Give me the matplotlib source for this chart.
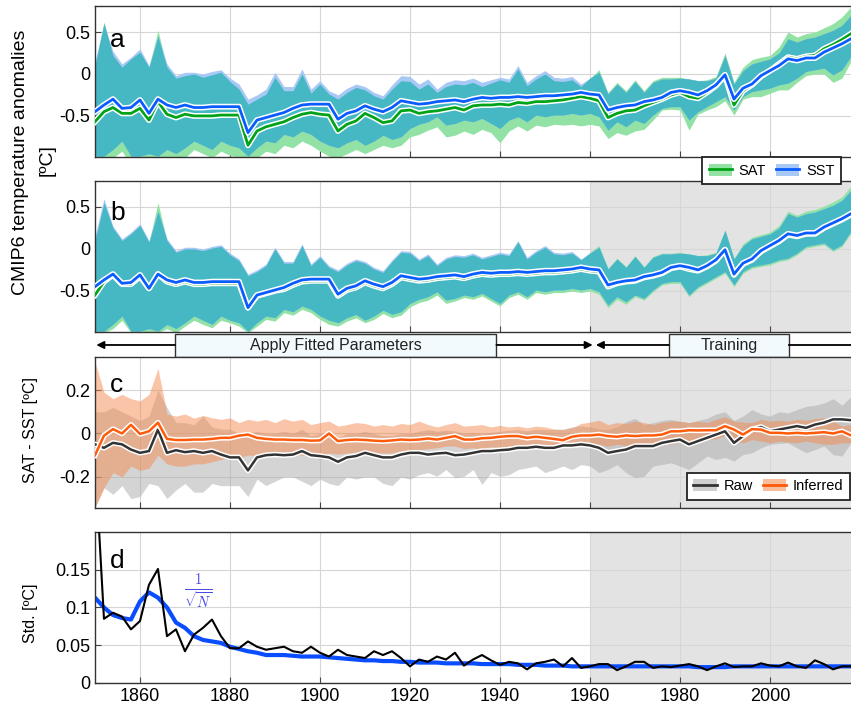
import numpy as np
import matplotlib
matplotlib.use("Agg")
import matplotlib.pyplot as plt
import matplotlib.patheffects as pe
from matplotlib.patches import Patch, Rectangle
from matplotlib.lines import Line2D

plt.rcParams['font.family'] = ['Liberation Sans', 'DejaVu Sans']
plt.rcParams['axes.unicode_minus'] = False

years = np.arange(1850, 2019, 2)

# ---- panel a : raw CMIP6 anomalies (multi-model mean and spread)
sst_mean = [-0.45, -0.37, -0.30, -0.41, -0.40, -0.31, -0.47, -0.30, -0.37, -0.40,
            -0.37, -0.40, -0.40, -0.39, -0.39, -0.39, -0.39, -0.70, -0.55, -0.52,
            -0.49, -0.46, -0.41, -0.37, -0.36, -0.36, -0.36, -0.54, -0.47, -0.44,
            -0.38, -0.42, -0.45, -0.40, -0.32, -0.34, -0.36, -0.35, -0.33, -0.32,
            -0.31, -0.33, -0.30, -0.28, -0.29, -0.28, -0.28, -0.27, -0.28, -0.27,
            -0.26, -0.26, -0.25, -0.24, -0.22, -0.24, -0.25, -0.43, -0.40, -0.38,
            -0.37, -0.33, -0.31, -0.28, -0.22, -0.20, -0.22, -0.25, -0.20, -0.13,
            -0.01, -0.30, -0.17, -0.12, -0.02, 0.04, 0.10, 0.18, 0.16, 0.19,
            0.19, 0.26, 0.31, 0.36, 0.42]
sat_mean = [-0.57, -0.45, -0.40, -0.47, -0.47, -0.41, -0.55, -0.33, -0.48, -0.52,
            -0.48, -0.50, -0.50, -0.50, -0.49, -0.49, -0.49, -0.85, -0.68, -0.63,
            -0.60, -0.57, -0.52, -0.48, -0.46, -0.48, -0.49, -0.68, -0.60, -0.56,
            -0.47, -0.52, -0.58, -0.56, -0.44, -0.43, -0.47, -0.45, -0.44, -0.42,
            -0.40, -0.43, -0.38, -0.37, -0.37, -0.36, -0.37, -0.34, -0.35, -0.33,
            -0.33, -0.32, -0.31, -0.29, -0.27, -0.29, -0.32, -0.52, -0.47, -0.44,
            -0.43, -0.38, -0.34, -0.30, -0.25, -0.22, -0.27, -0.29, -0.22, -0.14,
            -0.02, -0.37, -0.20, -0.13, -0.03, 0.04, 0.12, 0.20, 0.18, 0.21,
            0.22, 0.30, 0.35, 0.41, 0.48]
sst_hi = [0.15, 0.60, 0.27, 0.12, 0.20, 0.30, 0.10, 0.45, 0.12, -0.02,
          0.02, 0.02, 0.00, 0.03, 0.05, -0.05, -0.12, -0.30, -0.25, -0.18,
          0.02, -0.15, -0.15, 0.06, -0.18, -0.08, -0.20, -0.25, -0.17, -0.12,
          -0.15, -0.22, -0.26, -0.13, -0.02, -0.03, -0.12, -0.06, -0.18, -0.10,
          -0.07, -0.08, -0.05, -0.10, -0.07, -0.04, -0.06, 0.10, -0.10, -0.02,
          0.04, -0.04, -0.05, -0.03, -0.12, -0.05, 0.02, -0.24, -0.12, -0.22,
          -0.09, -0.22, -0.10, -0.06, -0.06, -0.05, -0.06, -0.08, -0.08, -0.05,
          0.22, -0.12, 0.04, 0.12, 0.15, 0.18, 0.25, 0.42, 0.38, 0.42,
          0.44, 0.48, 0.52, 0.58, 0.70]
sat_hi = [0.10, 0.62, 0.22, 0.08, 0.18, 0.26, 0.08, 0.52, 0.08, -0.05,
          -0.02, 0.00, -0.04, -0.01, 0.02, -0.09, -0.18, -0.36, -0.30, -0.24,
          -0.04, -0.20, -0.20, 0.00, -0.23, -0.12, -0.24, -0.30, -0.22, -0.16,
          -0.19, -0.26, -0.30, -0.18, -0.08, -0.09, -0.18, -0.12, -0.22, -0.15,
          -0.12, -0.13, -0.10, -0.15, -0.11, -0.07, -0.10, 0.06, -0.14, -0.06,
          0.00, -0.08, -0.09, -0.07, -0.15, -0.05, 0.05, -0.22, -0.10, -0.20,
          -0.07, -0.20, -0.08, -0.04, -0.04, -0.04, -0.06, -0.08, -0.07, -0.03,
          0.25, -0.10, 0.08, 0.17, 0.20, 0.22, 0.32, 0.50, 0.44, 0.48,
          0.50, 0.55, 0.60, 0.68, 0.80]
sst_lo = [-0.98, -0.98, -0.90, -0.80, -0.98, -0.98, -0.95, -0.98, -0.90, -0.95,
          -0.88, -0.80, -0.85, -0.90, -0.80, -0.85, -0.88, -0.98, -0.88, -0.80,
          -0.82, -0.72, -0.75, -0.68, -0.72, -0.80, -0.85, -0.88, -0.82, -0.78,
          -0.85, -0.80, -0.73, -0.78, -0.75, -0.65, -0.60, -0.57, -0.51, -0.61,
          -0.59, -0.55, -0.57, -0.53, -0.59, -0.65, -0.55, -0.51, -0.57, -0.49,
          -0.51, -0.49, -0.49, -0.47, -0.49, -0.47, -0.51, -0.67, -0.57, -0.63,
          -0.55, -0.59, -0.49, -0.41, -0.39, -0.39, -0.55, -0.45, -0.39, -0.33,
          -0.27, -0.43, -0.27, -0.21, -0.19, -0.17, -0.13, -0.11, -0.05, 0.03,
          0.05, 0.07, -0.01, 0.05, 0.21]
sat_lo = [-1.10, -1.10, -1.00, -0.92, -1.10, -1.10, -1.05, -1.10, -1.00, -1.05,
          -1.00, -0.90, -0.95, -1.00, -0.92, -0.97, -1.00, -1.10, -1.00, -0.92,
          -0.95, -0.85, -0.88, -0.80, -0.85, -0.92, -0.98, -1.00, -0.95, -0.90,
          -0.95, -0.90, -0.85, -0.88, -0.85, -0.75, -0.72, -0.67, -0.63, -0.75,
          -0.73, -0.68, -0.72, -0.66, -0.70, -0.82, -0.68, -0.62, -0.68, -0.61,
          -0.63, -0.60, -0.61, -0.60, -0.62, -0.60, -0.62, -0.77, -0.70, -0.73,
          -0.68, -0.66, -0.55, -0.43, -0.42, -0.43, -0.67, -0.48, -0.43, -0.39,
          -0.32, -0.49, -0.30, -0.27, -0.27, -0.23, -0.19, -0.19, -0.10, -0.02,
          0.00, 0.00, -0.10, -0.05, 0.15]

# ---- panel b : SAT after applying fitted parameters (SST unchanged)
sat_fit = [-0.55, -0.39, -0.31, -0.42, -0.42, -0.33, -0.47, -0.30, -0.39, -0.42,
           -0.39, -0.42, -0.42, -0.41, -0.41, -0.41, -0.41, -0.70, -0.56, -0.53,
           -0.50, -0.48, -0.43, -0.39, -0.38, -0.38, -0.38, -0.56, -0.49, -0.46,
           -0.40, -0.44, -0.47, -0.42, -0.34, -0.36, -0.38, -0.37, -0.35, -0.34,
           -0.33, -0.35, -0.32, -0.30, -0.31, -0.30, -0.30, -0.29, -0.30, -0.29,
           -0.28, -0.28, -0.27, -0.26, -0.24, -0.26, -0.27, -0.45, -0.41, -0.39,
           -0.38, -0.34, -0.32, -0.29, -0.23, -0.21, -0.24, -0.26, -0.21, -0.14,
           -0.01, -0.31, -0.18, -0.13, -0.03, 0.03, 0.09, 0.17, 0.15, 0.18,
           0.18, 0.25, 0.30, 0.35, 0.41]
sat_fit_hi = [0.10, 0.55, 0.25, 0.10, 0.18, 0.28, 0.08, 0.55, 0.10, -0.04,
              0.00, 0.00, -0.02, 0.01, 0.03, -0.07, -0.14, -0.32, -0.27, -0.20,
              0.00, -0.17, -0.17, 0.04, -0.20, -0.10, -0.22, -0.27, -0.19, -0.14,
              -0.17, -0.24, -0.28, -0.15, -0.04, -0.05, -0.14, -0.08, -0.20, -0.12,
              -0.09, -0.10, -0.07, -0.12, -0.09, -0.06, -0.08, 0.08, -0.12, -0.04,
              0.02, -0.06, -0.07, -0.05, -0.13, -0.04, 0.04, -0.23, -0.11, -0.21,
              -0.08, -0.21, -0.09, -0.05, -0.05, -0.04, -0.06, -0.08, -0.07, -0.04,
              0.23, -0.11, 0.06, 0.14, 0.17, 0.20, 0.28, 0.45, 0.40, 0.45,
              0.47, 0.51, 0.56, 0.62, 0.75]
sat_fit_lo = [-1.05, -1.00, -0.95, -0.85, -1.00, -1.00, -1.00, -1.00, -0.95, -1.00,
              -0.92, -0.85, -0.90, -0.94, -0.85, -0.88, -0.92, -1.00, -0.92, -0.84,
              -0.86, -0.76, -0.79, -0.72, -0.76, -0.84, -0.90, -0.92, -0.86, -0.82,
              -0.88, -0.84, -0.77, -0.82, -0.79, -0.69, -0.64, -0.61, -0.55, -0.65,
              -0.62, -0.58, -0.60, -0.56, -0.62, -0.68, -0.58, -0.54, -0.60, -0.52,
              -0.54, -0.52, -0.52, -0.50, -0.52, -0.50, -0.54, -0.70, -0.60, -0.66,
              -0.57, -0.61, -0.51, -0.43, -0.41, -0.41, -0.57, -0.47, -0.41, -0.35,
              -0.29, -0.45, -0.29, -0.23, -0.21, -0.19, -0.15, -0.13, -0.07, 0.01,
              0.03, 0.05, -0.03, 0.03, 0.19]

# ---- panel c : SAT - SST, raw and inferred
raw_mean = [-0.05, -0.066, -0.043, -0.05, -0.074, -0.089, -0.081, 0.018, -0.089, -0.077,
            -0.086, -0.081, -0.089, -0.081, -0.097, -0.11, -0.11, -0.17, -0.11, -0.10,
            -0.097, -0.10, -0.097, -0.081, -0.10, -0.104, -0.11, -0.13, -0.11, -0.104,
            -0.089, -0.10, -0.11, -0.11, -0.097, -0.089, -0.089, -0.097, -0.092, -0.089,
            -0.10, -0.097, -0.089, -0.081, -0.081, -0.077, -0.074, -0.066, -0.066, -0.061,
            -0.066, -0.066, -0.055, -0.055, -0.05, -0.055, -0.066, -0.089, -0.081, -0.074,
            -0.058, -0.058, -0.058, -0.043, -0.035, -0.028, -0.05, -0.035, -0.02, -0.005,
            0.01, -0.043, -0.012, 0.018, 0.03, 0.01, 0.018, 0.026, 0.034, 0.026,
            0.041, 0.05, 0.065, 0.065, 0.061]
raw_hi = [0.10, 0.10, 0.12, 0.10, 0.08, 0.06, 0.08, 0.20, 0.12, 0.05,
          0.05, 0.04, 0.08, 0.03, 0.02, 0.02, 0.00, 0.00, 0.01, 0.00,
          0.00, 0.01, 0.00, 0.02, -0.01, 0.00, 0.00, -0.02, 0.00, 0.00,
          0.01, 0.00, -0.01, -0.01, 0.00, 0.00, 0.01, 0.018, 0.01, 0.015,
          0.012, 0.00, 0.005, 0.00, 0.005, 0.01, 0.015, 0.018, 0.012, 0.02,
          0.018, 0.018, 0.02, 0.03, 0.035, 0.03, 0.02, 0.018, 0.03, 0.055,
          0.07, 0.04, 0.05, 0.06, 0.065, 0.055, 0.05, 0.06, 0.07, 0.09,
          0.10, 0.06, 0.08, 0.11, 0.09, 0.08, 0.10, 0.095, 0.11, 0.125,
          0.13, 0.14, 0.16, 0.13, 0.17]
raw_lo = [-0.34, -0.25, -0.28, -0.24, -0.30, -0.29, -0.23, -0.24, -0.30, -0.26,
          -0.23, -0.27, -0.27, -0.23, -0.24, -0.24, -0.24, -0.29, -0.21, -0.24,
          -0.22, -0.20, -0.20, -0.22, -0.24, -0.21, -0.23, -0.24, -0.20, -0.21,
          -0.20, -0.20, -0.23, -0.24, -0.20, -0.21, -0.19, -0.18, -0.197, -0.166,
          -0.204, -0.197, -0.166, -0.235, -0.18, -0.197, -0.19, -0.166, -0.158, -0.15,
          -0.18, -0.166, -0.15, -0.166, -0.143, -0.15, -0.18, -0.166, -0.143, -0.18,
          -0.204, -0.197, -0.15, -0.143, -0.135, -0.15, -0.166, -0.135, -0.104, -0.12,
          -0.11, -0.127, -0.097, -0.089, -0.066, -0.05, -0.046, -0.043, -0.066, -0.089,
          -0.074, -0.058, -0.097, -0.104, -0.043]
inf_mean = [-0.10, -0.01, 0.02, 0.00, 0.04, -0.002, 0.01, 0.05, -0.025, -0.03,
            -0.03, -0.028, -0.028, -0.025, -0.02, -0.02, -0.01, -0.005, -0.02, -0.025,
            -0.028, -0.028, -0.03, -0.03, -0.033, -0.032, 0.00, -0.035, -0.03, -0.028,
            -0.03, -0.033, -0.035, -0.032, -0.028, -0.03, -0.028, -0.023, -0.028, -0.02,
            -0.012, -0.028, -0.028, -0.022, -0.02, -0.015, -0.012, -0.012, -0.02, -0.015,
            -0.02, -0.025, -0.031, -0.015, -0.009, -0.009, -0.005, -0.012, -0.015, -0.009,
            -0.012, -0.009, -0.009, -0.005, 0.01, 0.01, 0.015, 0.014, 0.015, 0.015,
            0.034, 0.018, -0.005, 0.02, 0.018, 0.003, 0.003, 0.0, 0.003, 0.0,
            0.003, 0.006, 0.0, 0.01, -0.009]
inf_hi = [0.33, 0.19, 0.16, 0.18, 0.16, 0.15, 0.18, 0.30, 0.09, 0.08,
          0.09, 0.07, 0.083, 0.072, 0.065, 0.072, 0.05, 0.065, 0.057, 0.065,
          0.05, 0.068, 0.057, 0.065, 0.041, 0.05, 0.057, 0.034, 0.041, 0.05,
          0.046, 0.034, 0.041, 0.034, 0.046, 0.041, 0.057, 0.041, 0.03, 0.041,
          0.05, 0.034, 0.037, 0.041, 0.03, 0.037, 0.03, 0.034, 0.026, 0.034,
          0.03, 0.021, 0.018, 0.026, 0.046, 0.052, 0.061, 0.041, 0.05, 0.046,
          0.057, 0.05, 0.041, 0.052, 0.057, 0.057, 0.05, 0.057, 0.05, 0.065,
          0.077, 0.057, 0.052, 0.05, 0.065, 0.057, 0.061, 0.057, 0.065, 0.061,
          0.068, 0.072, 0.057, 0.034, 0.041]
inf_lo = [-0.34, -0.25, -0.18, -0.20, -0.15, -0.17, -0.16, -0.10, -0.14, -0.15,
          -0.15, -0.14, -0.14, -0.13, -0.12, -0.11, -0.11, -0.10, -0.10, -0.09,
          -0.10, -0.10, -0.095, -0.10, -0.10, -0.12, -0.09, -0.095, -0.09, -0.085,
          -0.085, -0.09, -0.09, -0.09, -0.08, -0.075, -0.075, -0.07, -0.066, -0.058,
          -0.058, -0.07, -0.066, -0.074, -0.061, -0.066, -0.058, -0.066, -0.061, -0.058,
          -0.061, -0.058, -0.066, -0.055, -0.05, -0.055, -0.05, -0.058, -0.05, -0.055,
          -0.05, -0.05, -0.055, -0.043, -0.05, -0.035, -0.043, -0.035, -0.028, -0.025,
          -0.009, -0.035, -0.043, -0.028, -0.035, -0.043, -0.035, -0.04, -0.043, -0.035,
          -0.043, -0.05, -0.05, -0.043, -0.043]

# ---- panel d : standard deviation
std_raw = [0.30, 0.085, 0.093, 0.088, 0.071, 0.082, 0.13, 0.151, 0.062, 0.071,
           0.042, 0.064, 0.073, 0.084, 0.062, 0.046, 0.046, 0.055, 0.048, 0.044,
           0.046, 0.048, 0.042, 0.040, 0.048, 0.040, 0.035, 0.044, 0.037, 0.035,
           0.033, 0.042, 0.037, 0.042, 0.033, 0.022, 0.031, 0.028, 0.035, 0.031,
           0.040, 0.023, 0.031, 0.037, 0.030, 0.024, 0.028, 0.026, 0.018, 0.026,
           0.028, 0.031, 0.022, 0.033, 0.020, 0.022, 0.025, 0.025, 0.017, 0.022,
           0.028, 0.028, 0.020, 0.022, 0.021, 0.023, 0.025, 0.022, 0.017, 0.022,
           0.026, 0.021, 0.022, 0.022, 0.026, 0.023, 0.022, 0.027, 0.022, 0.020,
           0.030, 0.025, 0.018, 0.022, 0.022]
std_sqrtn = [0.113, 0.100, 0.090, 0.086, 0.084, 0.108, 0.120, 0.113, 0.100, 0.080,
             0.073, 0.062, 0.057, 0.055, 0.053, 0.048, 0.045, 0.042, 0.040, 0.037,
             0.037, 0.037, 0.036, 0.035, 0.035, 0.035, 0.034, 0.033, 0.032, 0.031,
             0.030, 0.030, 0.029, 0.029, 0.028, 0.028, 0.027, 0.027, 0.027, 0.026,
             0.026, 0.026, 0.026, 0.025, 0.025, 0.025, 0.025, 0.024, 0.024, 0.024,
             0.023, 0.023, 0.023, 0.022, 0.022, 0.022, 0.022, 0.022, 0.022, 0.022,
             0.022, 0.022, 0.022, 0.022, 0.022, 0.022, 0.022, 0.021, 0.021, 0.021,
             0.021, 0.022, 0.022, 0.022, 0.022, 0.022, 0.022, 0.022, 0.022, 0.022,
             0.022, 0.022, 0.022, 0.022, 0.022]

GREEN_FILL, BLUE_FILL, TEAL = '#92E2A6', '#A8C8F6', '#45B8C4'
GREEN, BLUE = '#00A317', '#0A5CFF'
ORANGE, DARK = '#FF5A0A', '#333333'


def halo(width):
    return [pe.Stroke(linewidth=width + 2.2, foreground='white'), pe.Normal()]


def two_bands(ax, lo1, hi1, c1, lo2, hi2, c2):
    lo1, hi1, lo2, hi2 = map(np.asarray, (lo1, hi1, lo2, hi2))
    ax.fill_between(years, lo1, hi1, color=c1, lw=0, zorder=1)
    ax.fill_between(years, lo2, hi2, color=c2, lw=0, zorder=1)
    top = np.minimum(hi1, hi2)
    bot = np.maximum(lo1, lo2)
    ax.fill_between(years, bot, top, where=top > bot, interpolate=True,
                    color=TEAL, lw=0, zorder=1.5)


def style(ax, ylim, yticks, ylabels, xlabels=False):
    ax.set_xlim(1850, 2018)
    ax.set_ylim(*ylim)
    ax.set_xticks(range(1860, 2018, 20))
    ax.set_yticks(yticks)
    ax.set_yticklabels(ylabels)
    ax.grid(True, color='#d6d6d6', lw=0.8)
    ax.set_axisbelow(True)
    ax.tick_params(direction='in', length=4, labelsize=13, labelbottom=xlabels,
                   color='#444444')
    for s in ax.spines.values():
        s.set_color('#333333')
        s.set_linewidth(1.0)
    ax.spines['right'].set_visible(False)


fig = plt.figure(figsize=(8.51, 7.15), dpi=100)
L, W, H = 0.1116, 0.8884, 0.2112
ax_a = fig.add_axes([L, 0.7804, W, H])
ax_b = fig.add_axes([L, 0.5357, W, H])
ax_band = fig.add_axes([L, 0.5007, W, 0.035])
ax_c = fig.add_axes([L, 0.2895, W, H])
ax_d = fig.add_axes([L, 0.0448, W, H])

for ax in (ax_b, ax_c, ax_d):
    ax.axvspan(1960, 2018, color='#e3e3e3', lw=0, zorder=0.1)

# a
two_bands(ax_a, sat_lo, sat_hi, GREEN_FILL, sst_lo, sst_hi, BLUE_FILL)
ax_a.plot(years, sat_mean, color=GREEN, lw=2, path_effects=halo(2), zorder=3)
ax_a.plot(years, sst_mean, color=BLUE, lw=2, path_effects=halo(2), zorder=3)
style(ax_a, (-0.99, 0.81), [-0.5, 0, 0.5], ['-0.5', '0', '0.5'])

# b
two_bands(ax_b, sat_fit_lo, sat_fit_hi, GREEN_FILL, sst_lo, sst_hi, BLUE_FILL)
ax_b.plot(years, sat_fit, color=GREEN, lw=2, path_effects=halo(2), zorder=3)
ax_b.plot(years, sst_mean, color=BLUE, lw=2, path_effects=halo(2), zorder=3)
style(ax_b, (-0.99, 0.81), [-0.5, 0, 0.5], ['-0.5', '0', '0.5'])

# band with arrows
ax_band.set_xlim(1850, 2018)
ax_band.set_ylim(0, 1)
ax_band.axis('off')
for x0, x1, label in [(1867.8, 1939.2, 'Apply Fitted Parameters'),
                      (1977.5, 2004.2, 'Training')]:
    ax_band.add_patch(Rectangle((x0, 0), x1 - x0, 0.93, fc='#F2FAFD',
                                ec='#333333', lw=1.0, clip_on=False))
    ax_band.text((x0 + x1) / 2, 0.44, label, ha='center', va='center',
                 fontsize=11.5, color='#222222')
arrow = dict(arrowstyle='-|>', color='black', lw=1.3, mutation_scale=11,
             shrinkA=0, shrinkB=0)
ax_band.annotate('', xy=(1850.3, 0.48), xytext=(1867.8, 0.48), arrowprops=arrow)
ax_band.annotate('', xy=(1960.6, 0.48), xytext=(1939.2, 0.48), arrowprops=arrow)
ax_band.annotate('', xy=(1961.3, 0.48), xytext=(1977.5, 0.48), arrowprops=arrow)
ax_band.plot([2004.2, 2018], [0.48, 0.48], color='black', lw=1.3)

# c
ax_c.fill_between(years, raw_lo, raw_hi, color='#ababab', alpha=0.5, lw=0, zorder=1)
ax_c.fill_between(years, inf_lo, inf_hi, color='#F58A50', alpha=0.5, lw=0, zorder=1)
ax_c.plot(years, raw_mean, color=DARK, lw=1.8, path_effects=halo(1.8), zorder=3)
ax_c.plot(years, inf_mean, color=ORANGE, lw=1.8, path_effects=halo(1.8), zorder=3)
style(ax_c, (-0.343, 0.352), [-0.2, 0, 0.2], ['-0.2', '0', '0.2'])

# d
ax_d.plot(years, std_sqrtn, color='#0A4DFF', lw=3.0, zorder=2)
ax_d.plot(years, std_raw, color='black', lw=1.5, zorder=3)
ax_d.text(1873, 0.121, r'$\frac{1}{\sqrt{N}}$', color='#4A4AE6', fontsize=15,
          ha='center', va='center', math_fontfamily='cm')
style(ax_d, (0, 0.2), [0, 0.05, 0.1, 0.15], ['0', '0.05', '0.1', '0.15'],
      xlabels=True)

# panel letters
for ax, letter, yb in [(ax_a, 'a', 0.728), (ax_b, 'b', 0.742),
                       (ax_c, 'c', 0.768), (ax_d, 'd', 0.76)]:
    ax.text(0.02, yb, letter, transform=ax.transAxes, fontsize=19,
            va='baseline', ha='left', zorder=5)

# y labels
fig.text(21 / 851, 1 - 162 / 715, 'CMIP6 temperature anomalies', rotation=90,
         ha='center', va='center', fontsize=14)
fig.text(47 / 851, 1 - 160 / 715, '[ºC]', rotation=90, ha='center',
         va='center', fontsize=14)
fig.text(31 / 851, 1 - 430 / 715, 'SAT - SST [ºC]', rotation=90, ha='center',
         va='center', fontsize=11.5)
fig.text(31 / 851, 1 - 613 / 715, 'Std. [ºC]', rotation=90, ha='center',
         va='center', fontsize=11.5)

# legends
leg_kw = dict(ncol=2, fontsize=10.5, fancybox=False, framealpha=1,
              edgecolor='#222222', borderpad=0.45, handlelength=1.6,
              handleheight=0.9, handletextpad=0.45, columnspacing=0.7,
              borderaxespad=0)
leg_a = [(Patch(fc=GREEN_FILL, ec='none'), Line2D([], [], color=GREEN, lw=2)),
         (Patch(fc=BLUE_FILL, ec='none'), Line2D([], [], color=BLUE, lw=2))]
la = fig.legend(leg_a, ['SAT', 'SST'], loc='upper right',
                bbox_to_anchor=(841 / 851, 1 - 157 / 715), **leg_kw)
leg_c = [(Patch(fc='#cfcfcf', ec='none'), Line2D([], [], color=DARK, lw=2)),
         (Patch(fc='#F8BE9C', ec='none'), Line2D([], [], color=ORANGE, lw=2))]
lc = fig.legend(leg_c, ['Raw', 'Inferred'], loc='lower right',
                bbox_to_anchor=(850 / 851, 1 - 500 / 715), **leg_kw)
for lg in (la, lc):
    lg.get_frame().set_linewidth(1.3)

fig.savefig('out.png', dpi=100)
